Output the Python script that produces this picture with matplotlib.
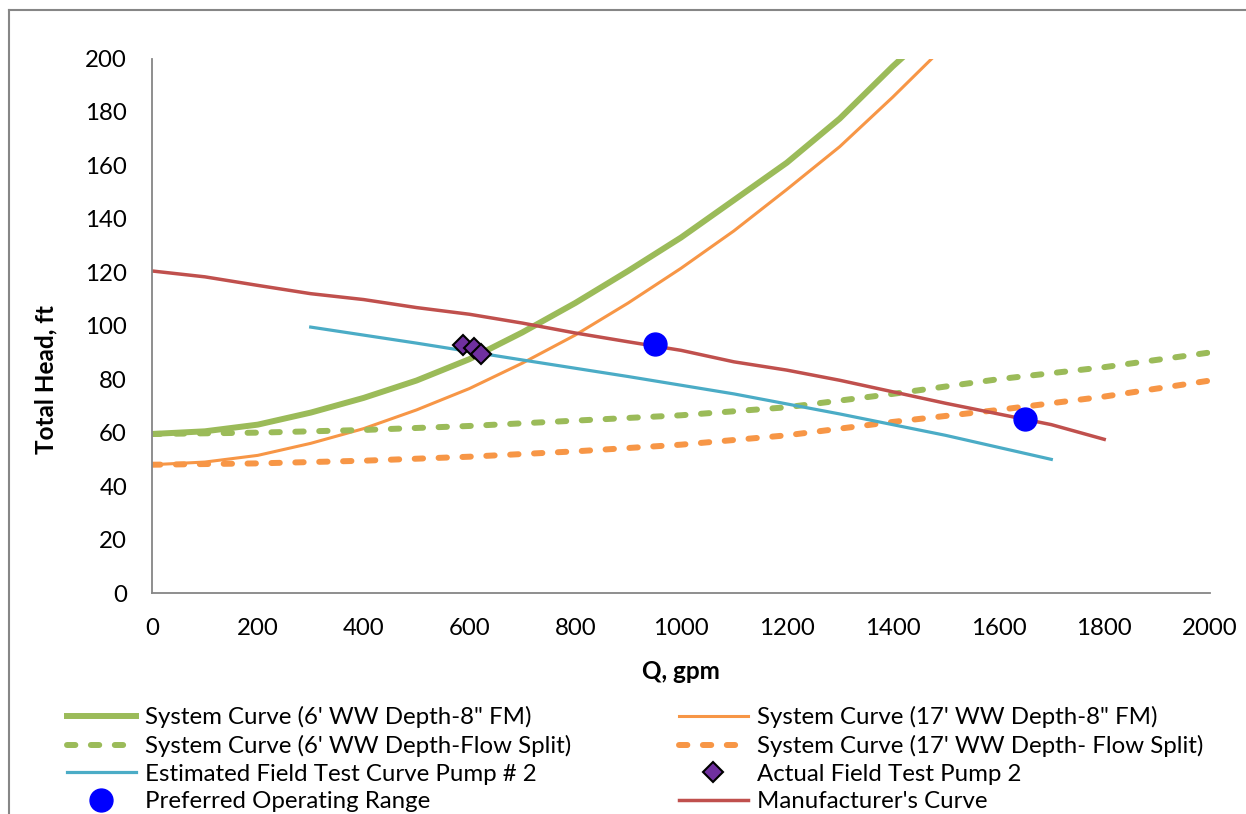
import matplotlib
matplotlib.use("Agg")
import matplotlib.pyplot as plt
from matplotlib.lines import Line2D

plt.rcParams["font.family"] = ["Lato", "DejaVu Sans"]

# --- data ---
q_sys = [0, 100, 200, 300, 400, 500, 600, 700, 800, 900, 1000, 1100, 1200, 1300, 1400, 1500]
h_6ft_8fm = [59.5, 60.5, 63, 67.5, 73, 79.5, 87.5, 97.5, 108.5, 120.5, 133, 147, 161, 177.5, 197, 215]
h_17ft_8fm = [48, 49, 51.5, 56, 61.5, 68.5, 76.5, 86, 96.5, 108.5, 121.5, 135.5, 151, 167, 185.5, 205]

q_split = [0, 200, 400, 600, 800, 1000, 1200, 1400, 1600, 1800, 2000]
h_6ft_split = [59.5, 60, 61, 62.5, 64.5, 66.5, 69.5, 74.5, 80, 84.5, 90]
h_17ft_split = [48, 48.5, 49.5, 51, 53, 55.5, 59, 64, 68.5, 73.5, 79.5]

q_est = [300, 500, 700, 900, 1100, 1300, 1500, 1700]
h_est = [99.5, 93.5, 87.2, 81, 74.5, 67, 59, 50]

q_actual = [587, 608, 622]
h_actual = [92.7, 91.5, 89.3]

q_pref = [950, 1650]
h_pref = [93, 65]

q_mfr = [0, 100, 200, 300, 400, 500, 600, 700, 800, 900, 1000, 1100, 1200, 1300, 1400, 1500, 1600, 1700, 1800]
h_mfr = [120.5, 118.3, 115.1, 112, 109.8, 106.8, 104.3, 101, 97.3, 94, 90.8, 86.5, 83.4, 79.6, 75.3, 71, 67, 63, 57.5]

x_ticks = list(range(0, 2001, 200))
y_ticks = list(range(0, 201, 20))

# colours (Excel 2007 palette)
c_green = '#9BBB59'
c_orange = '#F79646'
c_blue = '#4BACC6'
c_red = '#C0504D'
c_purple = '#7030A0'
c_axis = '#868686'

W, H = 1246, 814
fig = plt.figure(figsize=(W / 100, H / 100), dpi=100)
ax = fig.add_axes([152 / W, 1 - 593 / H, (1210 - 152) / W, (593 - 58.5) / H])

dash = (1.4, 2.6)
l1, = ax.plot(q_sys, h_6ft_8fm, color=c_green, lw=4.3, label='System Curve (6\' WW Depth-8" FM)')
l2, = ax.plot(q_sys, h_17ft_8fm, color=c_orange, lw=2.2, label='System Curve (17\' WW Depth-8" FM)')
l3, = ax.plot(q_split, h_6ft_split, color=c_green, lw=4.3, linestyle=(0, dash),
              dash_capstyle='round', label="System Curve (6' WW Depth-Flow Split)")
l4, = ax.plot(q_split, h_17ft_split, color=c_orange, lw=4.3, linestyle=(0, dash),
              dash_capstyle='round', label="System Curve (17' WW Depth- Flow Split)")
l5, = ax.plot(q_est, h_est, color=c_blue, lw=2.3, label='Estimated Field Test Curve Pump # 2')
l8, = ax.plot(q_mfr, h_mfr, color=c_red, lw=2.5, label="Manufacturer's Curve")
l6, = ax.plot(q_actual, h_actual, linestyle='none', marker='D', markersize=10.5,
              markerfacecolor=c_purple, markeredgecolor='black', markeredgewidth=1.5,
              label='Actual Field Test Pump 2')
l7, = ax.plot(q_pref, h_pref, linestyle='none', marker='o', markersize=16.5,
              color='#0000FF', label='Preferred Operating Range')

ax.set_xlim(0, 2000)
ax.set_ylim(0, 200)
ax.set_xticks(x_ticks)
ax.set_yticks(y_ticks)
ax.tick_params(axis='both', length=0, labelsize=17.3)
ax.tick_params(axis='y', pad=18)
ax.tick_params(axis='x', pad=18)

for side in ['top', 'right']:
    ax.spines[side].set_visible(False)
for side in ['left', 'bottom']:
    ax.spines[side].set_color(c_axis)
    ax.spines[side].set_linewidth(1.3)

ax.set_xlabel('Q, gpm', fontsize=17.5, fontweight='bold')
ax.set_ylabel('Total Head, ft', fontsize=17.5, fontweight='bold')
ax.xaxis.set_label_coords(0.5, -0.125)
ax.yaxis.set_label_coords(-0.089, 0.40)

# legend below the plot, two columns (runs off the bottom like the original)
handles = [l1, l3, l5, l7, l2, l4, l6, l8]
fig.legend(handles=handles, labels=[h.get_label() for h in handles],
           loc='upper left', bbox_to_anchor=(67 / W, 1 - 706 / H),
           ncol=2, frameon=False, fontsize=17.3, handlelength=2.87,
           handletextpad=0.36, columnspacing=4.5, labelspacing=0.28,
           borderpad=0, borderaxespad=0)

# outer chart-area border (left and top edges visible)
fig.add_artist(Line2D([9 / W, 9 / W], [0, 1 - 10 / H], color=c_axis, lw=1.5,
                      transform=fig.transFigure))
fig.add_artist(Line2D([9 / W, 1], [1 - 10 / H, 1 - 10 / H], color=c_axis, lw=1.5,
                      transform=fig.transFigure))

fig.savefig('out.png', dpi=100)
